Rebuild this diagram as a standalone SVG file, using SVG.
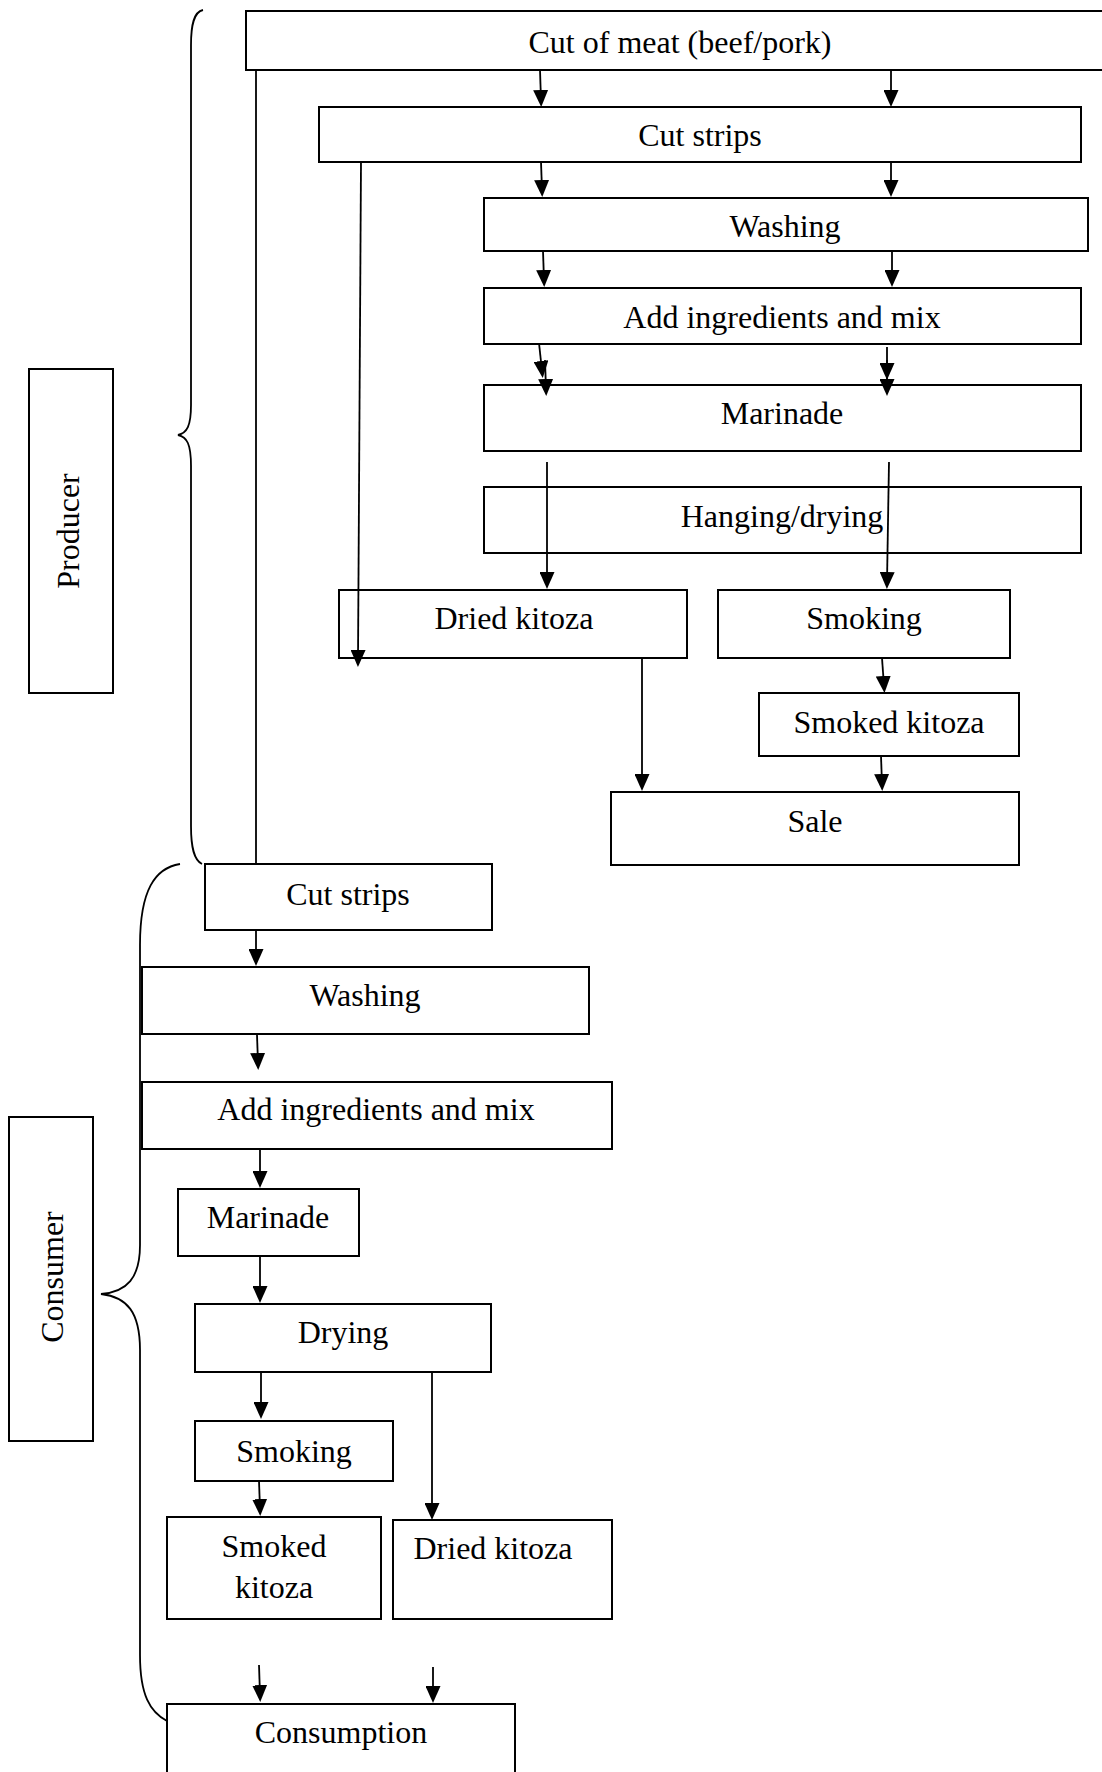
<svg xmlns="http://www.w3.org/2000/svg" width="1102" height="1772" viewBox="0 0 1102 1772">
<defs>
<marker id="ah" viewBox="0 0 17 15" markerWidth="17" markerHeight="15" refX="10" refY="7.5" orient="auto" markerUnits="userSpaceOnUse">
<path d="M0,0 L17,7.5 L0,15 z" fill="#000"/>
</marker>
<style>
.box{fill:#fff;stroke:#000;stroke-width:2}
.t{font-family:"Liberation Serif","Times New Roman",serif;font-size:32px;fill:#000;text-anchor:middle}
.c{fill:none;stroke:#000;stroke-width:1.8}
.a{fill:none;stroke:#000;stroke-width:1.8;marker-end:url(#ah)}
.br{fill:none;stroke:#000;stroke-width:1.8}
</style>
</defs>
<rect width="1102" height="1772" fill="#fff"/>

<g id="braces">
<path class="br" d="M203,10 C194,12 191,24 191,45 L191,405 C191,426 187,433 178,435 C187,437 191,444 191,466 L191,826 C191,848 194,860 202,864"/>
<path class="br" d="M180,864 C155,868 140,890 140,945 L140,1245 C140,1278 127,1292 101,1294 C127,1297 140,1312 140,1350 L140,1655 C140,1695 150,1712 167,1721"/>
</g>

<g id="producer-label"><rect class="box" x="29" y="369" width="84" height="324"/><text class="t" transform="translate(79,531) rotate(-90)">Producer</text></g>
<g id="consumer-label"><rect class="box" x="9" y="1117" width="84" height="324"/><text class="t" transform="translate(63,1277) rotate(-90)">Consumer</text></g>

<g id="n-cut-meat"><rect class="box" x="246" y="11" width="870" height="59"/><text class="t" x="680" y="53">Cut of meat (beef/pork)</text></g>
<g id="n-cut-strips-p"><rect class="box" x="319" y="107" width="762" height="55"/><text class="t" x="700" y="146">Cut strips</text></g>
<g id="n-washing-p"><rect class="box" x="484" y="198" width="604" height="53"/><text class="t" x="785" y="237">Washing</text></g>
<g id="n-add-p"><rect class="box" x="484" y="288" width="597" height="56"/><text class="t" x="782" y="328">Add ingredients and mix</text></g>
<g id="n-marinade-p"><rect class="box" x="484" y="385" width="597" height="66"/><text class="t" x="782" y="424">Marinade</text></g>
<g id="n-hanging"><rect class="box" x="484" y="487" width="597" height="66"/><text class="t" x="782" y="527">Hanging/drying</text></g>
<g id="n-dried-p"><rect class="box" x="339" y="590" width="348" height="68"/><text class="t" x="514" y="629">Dried kitoza</text></g>
<g id="n-smoking-p"><rect class="box" x="718" y="590" width="292" height="68"/><text class="t" x="864" y="629">Smoking</text></g>
<g id="n-smoked-p"><rect class="box" x="759" y="693" width="260" height="63"/><text class="t" x="889" y="733">Smoked kitoza</text></g>
<g id="n-sale"><rect class="box" x="611" y="792" width="408" height="73"/><text class="t" x="815" y="832">Sale</text></g>

<g id="n-cut-strips-c"><rect class="box" x="205" y="864" width="287" height="66"/><text class="t" x="348" y="905">Cut strips</text></g>
<g id="n-washing-c"><rect class="box" x="142" y="967" width="447" height="67"/><text class="t" x="365" y="1006">Washing</text></g>
<g id="n-add-c"><rect class="box" x="142" y="1082" width="470" height="67"/><text class="t" x="376" y="1120">Add ingredients and mix</text></g>
<g id="n-marinade-c"><rect class="box" x="178" y="1189" width="181" height="67"/><text class="t" x="268" y="1228">Marinade</text></g>
<g id="n-drying-c"><rect class="box" x="195" y="1304" width="296" height="68"/><text class="t" x="343" y="1343">Drying</text></g>
<g id="n-smoking-c"><rect class="box" x="195" y="1421" width="198" height="60"/><text class="t" x="294" y="1462">Smoking</text></g>
<g id="n-smoked-c"><rect class="box" x="167" y="1517" width="214" height="102"/><text class="t" x="274" y="1557">Smoked</text><text class="t" x="274" y="1598">kitoza</text></g>
<g id="n-dried-c"><rect class="box" x="393" y="1520" width="219" height="99"/><text class="t" x="493" y="1559">Dried kitoza</text></g>
<g id="n-consumption"><rect class="box" x="167" y="1704" width="348" height="80"/><text class="t" x="341" y="1743">Consumption</text></g>

<g id="connectors">
<path class="c" d="M256,70 L256,864"/>
<path class="a" d="M540,70 L541,100"/>
<path class="a" d="M891,70 L891,100"/>
<path class="a" d="M361,162 L358,660"/>
<path class="a" d="M541,162 L542,190"/>
<path class="a" d="M891,162 L891,190"/>
<path class="a" d="M543,251 L544,280"/>
<path class="a" d="M892,251 L892,280"/>
<path class="a" d="M539,343 L542,371"/>
<path class="a" d="M545,360 L546,389"/>
<path class="a" d="M887,347 L887,373"/>
<path class="a" d="M887,360 L887,389"/>
<path class="a" d="M547,462 L547,582"/>
<path class="a" d="M889,462 L887,582"/>
<path class="a" d="M882,658 L884,686"/>
<path class="a" d="M642,658 L642,784"/>
<path class="a" d="M881,756 L882,784"/>
<path class="a" d="M256,930 L256,959"/>
<path class="a" d="M257,1035 L258,1063"/>
<path class="a" d="M260,1149 L260,1181"/>
<path class="a" d="M260,1256 L260,1296"/>
<path class="a" d="M261,1371 L261,1412"/>
<path class="a" d="M432,1372 L432,1513"/>
<path class="a" d="M259,1481 L260,1509"/>
<path class="a" d="M259,1665 L260,1695"/>
<path class="a" d="M433,1667 L433,1696"/>
</g>
</svg>
